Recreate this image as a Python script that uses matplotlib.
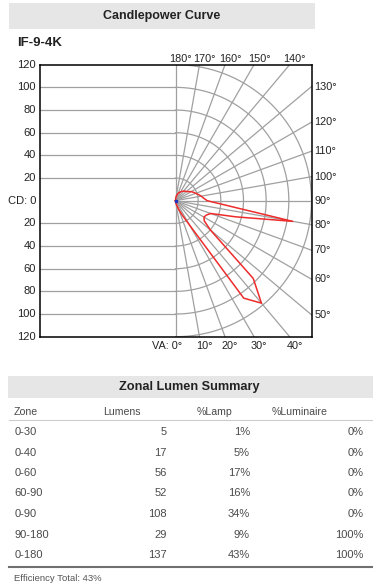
import numpy as np
import matplotlib
matplotlib.use('Agg')
import matplotlib.pyplot as plt
from matplotlib.patches import Rectangle

plt.rcParams['font.family'] = ['Liberation Sans', 'DejaVu Sans']

# Curva fotométrica: ángulo vertical (grados) y candelas
angulos = [0, 5, 10, 15, 20, 25, 30, 35, 40, 45, 50, 55, 60, 65, 70, 75, 80, 85, 90,
           95, 100, 105, 110, 115, 120, 125, 130, 135, 140, 145, 150, 155, 160, 165, 170, 175, 180]
candelas = [0, 1, 2, 4, 8, 14, 25, 105, 118, 97, 40, 31, 29, 30, 33, 55, 105, 44, 28,
            25, 23, 21, 19, 17.5, 16, 14, 12.5, 12, 11, 10, 9, 8, 7, 5.5, 4, 2, 0]

# Resumen de lúmenes por zona
zonas = ['0-30', '0-40', '0-60', '60-90', '0-90', '90-180', '0-180']
lumenes = [5, 17, 56, 52, 108, 29, 137]
pct_lampara = [1, 5, 17, 16, 34, 9, 43]
pct_luminaria = [0, 0, 0, 0, 0, 100, 100]
eficiencia = 43

W, H = 373, 587
fig = plt.figure(figsize=(W / 100, H / 100), dpi=100)

# Capa de fondo en coordenadas de pixel
fondo = fig.add_axes([0, 0, 1, 1])
fondo.set_xlim(0, W)
fondo.set_ylim(H, 0)
fondo.axis('off')

fondo.add_patch(Rectangle((9.3, 2.7), 305.7, 26, color='#e6e6e6', lw=0))
fondo.text(161.7, 16, 'Candlepower Curve', ha='center', va='center',
           fontsize=9, fontweight='bold', color='#222222')
fondo.text(16.7, 42.7, 'IF-9-4K', ha='left', va='center',
           fontsize=9.5, fontweight='bold', color='#222222')

# Gráfico polar (mitad derecha) con rejilla horizontal (mitad izquierda)
x0, x1, y0, y1 = 39.5, 311.5, 64.7, 336.7
ax = fig.add_axes([x0 / W, 1 - y1 / H, (x1 - x0) / W, (y1 - y0) / H])
ax.set_xlim(-120, 120)
ax.set_ylim(-120, 120)
ax.set_xticks([])
ax.set_yticks([])
for s in ax.spines.values():
    s.set_linewidth(1.1)
    s.set_color('black')

gris = '#a0a0a0'
lw_g = 0.9
for v in range(20, 120, 20):
    ax.plot([-120, 0], [v, v], color=gris, lw=lw_g)
    ax.plot([-120, 0], [-v, -v], color=gris, lw=lw_g)
ax.plot([0, 0], [-120, 120], color=gris, lw=lw_g)

t = np.linspace(0, np.pi, 300)
for r in range(20, 140, 20):
    ax.plot(r * np.sin(t), -r * np.cos(t), color=gris, lw=lw_g)

for a in range(10, 180, 10):
    rad = np.radians(a)
    dx, dy = np.sin(rad), -np.cos(rad)
    L = min(120 / abs(dx), 120 / max(abs(dy), 1e-9))
    ax.plot([0, L * dx], [0, L * dy], color=gris, lw=lw_g)

# Etiquetas de la escala
px = 120 / 136.0
fs = 7.8
for v in range(-120, 121, 20):
    txt = 'CD: 0' if v == 0 else str(abs(v))
    ax.text(-120 - 3.5 * px, v, txt, ha='right', va='center', fontsize=8, color='#222222')

for a in [180, 170, 160, 150, 140]:
    xe = 120 * np.tan(np.radians(180 - a))
    ax.text(xe + 5 * px, 120 + 5.7 * px, f'{a}°', ha='center', va='center',
            fontsize=fs, color='#222222')

for a in [130, 120, 110, 100, 90, 80, 70, 60, 50]:
    ye = -120 / np.tan(np.radians(a))
    ax.text(120 + 3 * px, ye, f'{a}°', ha='left', va='center', fontsize=fs, color='#222222')

for a in [0, 10, 20, 30, 40]:
    xe = 120 * np.tan(np.radians(a))
    if a == 0:
        ax.text(xe + 6.3 * px, -120 - 9.7 * px, 'VA: 0°', ha='right', va='center',
                fontsize=fs, color='#222222')
    else:
        ax.text(xe + 5 * px, -120 - 9.7 * px, f'{a}°', ha='center', va='center',
                fontsize=fs, color='#222222')

# Curva de intensidad
th = np.radians(angulos)
cd = np.array(candelas)
ax.plot(cd * np.sin(th), -cd * np.cos(th), color='#ee2b2b', lw=1.1)
ax.plot([0], [0], 's', ms=2, color='#2233bb')

# Tabla de lúmenes por zona
fondo.add_patch(Rectangle((8.3, 376), W - 8.3, 22.3, color='#e6e6e6', lw=0))
fondo.text(189, 387.3, 'Zonal Lumen Summary', ha='center', va='center',
           fontsize=9.2, fontweight='bold', color='#222222')

gris_txt = '#4a4a4a'
yh = 411.7
fondo.text(13.3, yh, 'Zone', ha='left', va='center', fontsize=7.6, color=gris_txt)
fondo.text(103, yh, 'Lumens', ha='left', va='center', fontsize=7.6, color=gris_txt)
fondo.text(197, yh, '%Lamp', ha='left', va='center', fontsize=7.6, color=gris_txt)
fondo.text(272, yh, '%Luminaire', ha='left', va='center', fontsize=7.6, color=gris_txt)
fondo.plot([9, W], [419.7, 419.7], color='#cccccc', lw=0.8)

for i, z in enumerate(zonas):
    y = 432 + 20.5 * i
    fondo.text(14.3, y, z, ha='left', va='center', fontsize=8, color=gris_txt)
    fondo.text(166.7, y, str(lumenes[i]), ha='right', va='center', fontsize=8, color=gris_txt)
    fondo.text(250, y, f'{pct_lampara[i]}%', ha='right', va='center', fontsize=8, color=gris_txt)
    fondo.text(363.3, y, f'{pct_luminaria[i]}%', ha='right', va='center', fontsize=8, color=gris_txt)

fondo.plot([9, W], [566.7, 566.7], color='#707070', lw=1.5)
fondo.text(14.3, 578.3, f'Efficiency Total: {eficiencia}%', ha='left', va='center',
           fontsize=6.8, color='#555555')

fig.savefig('out.png', dpi=100)
